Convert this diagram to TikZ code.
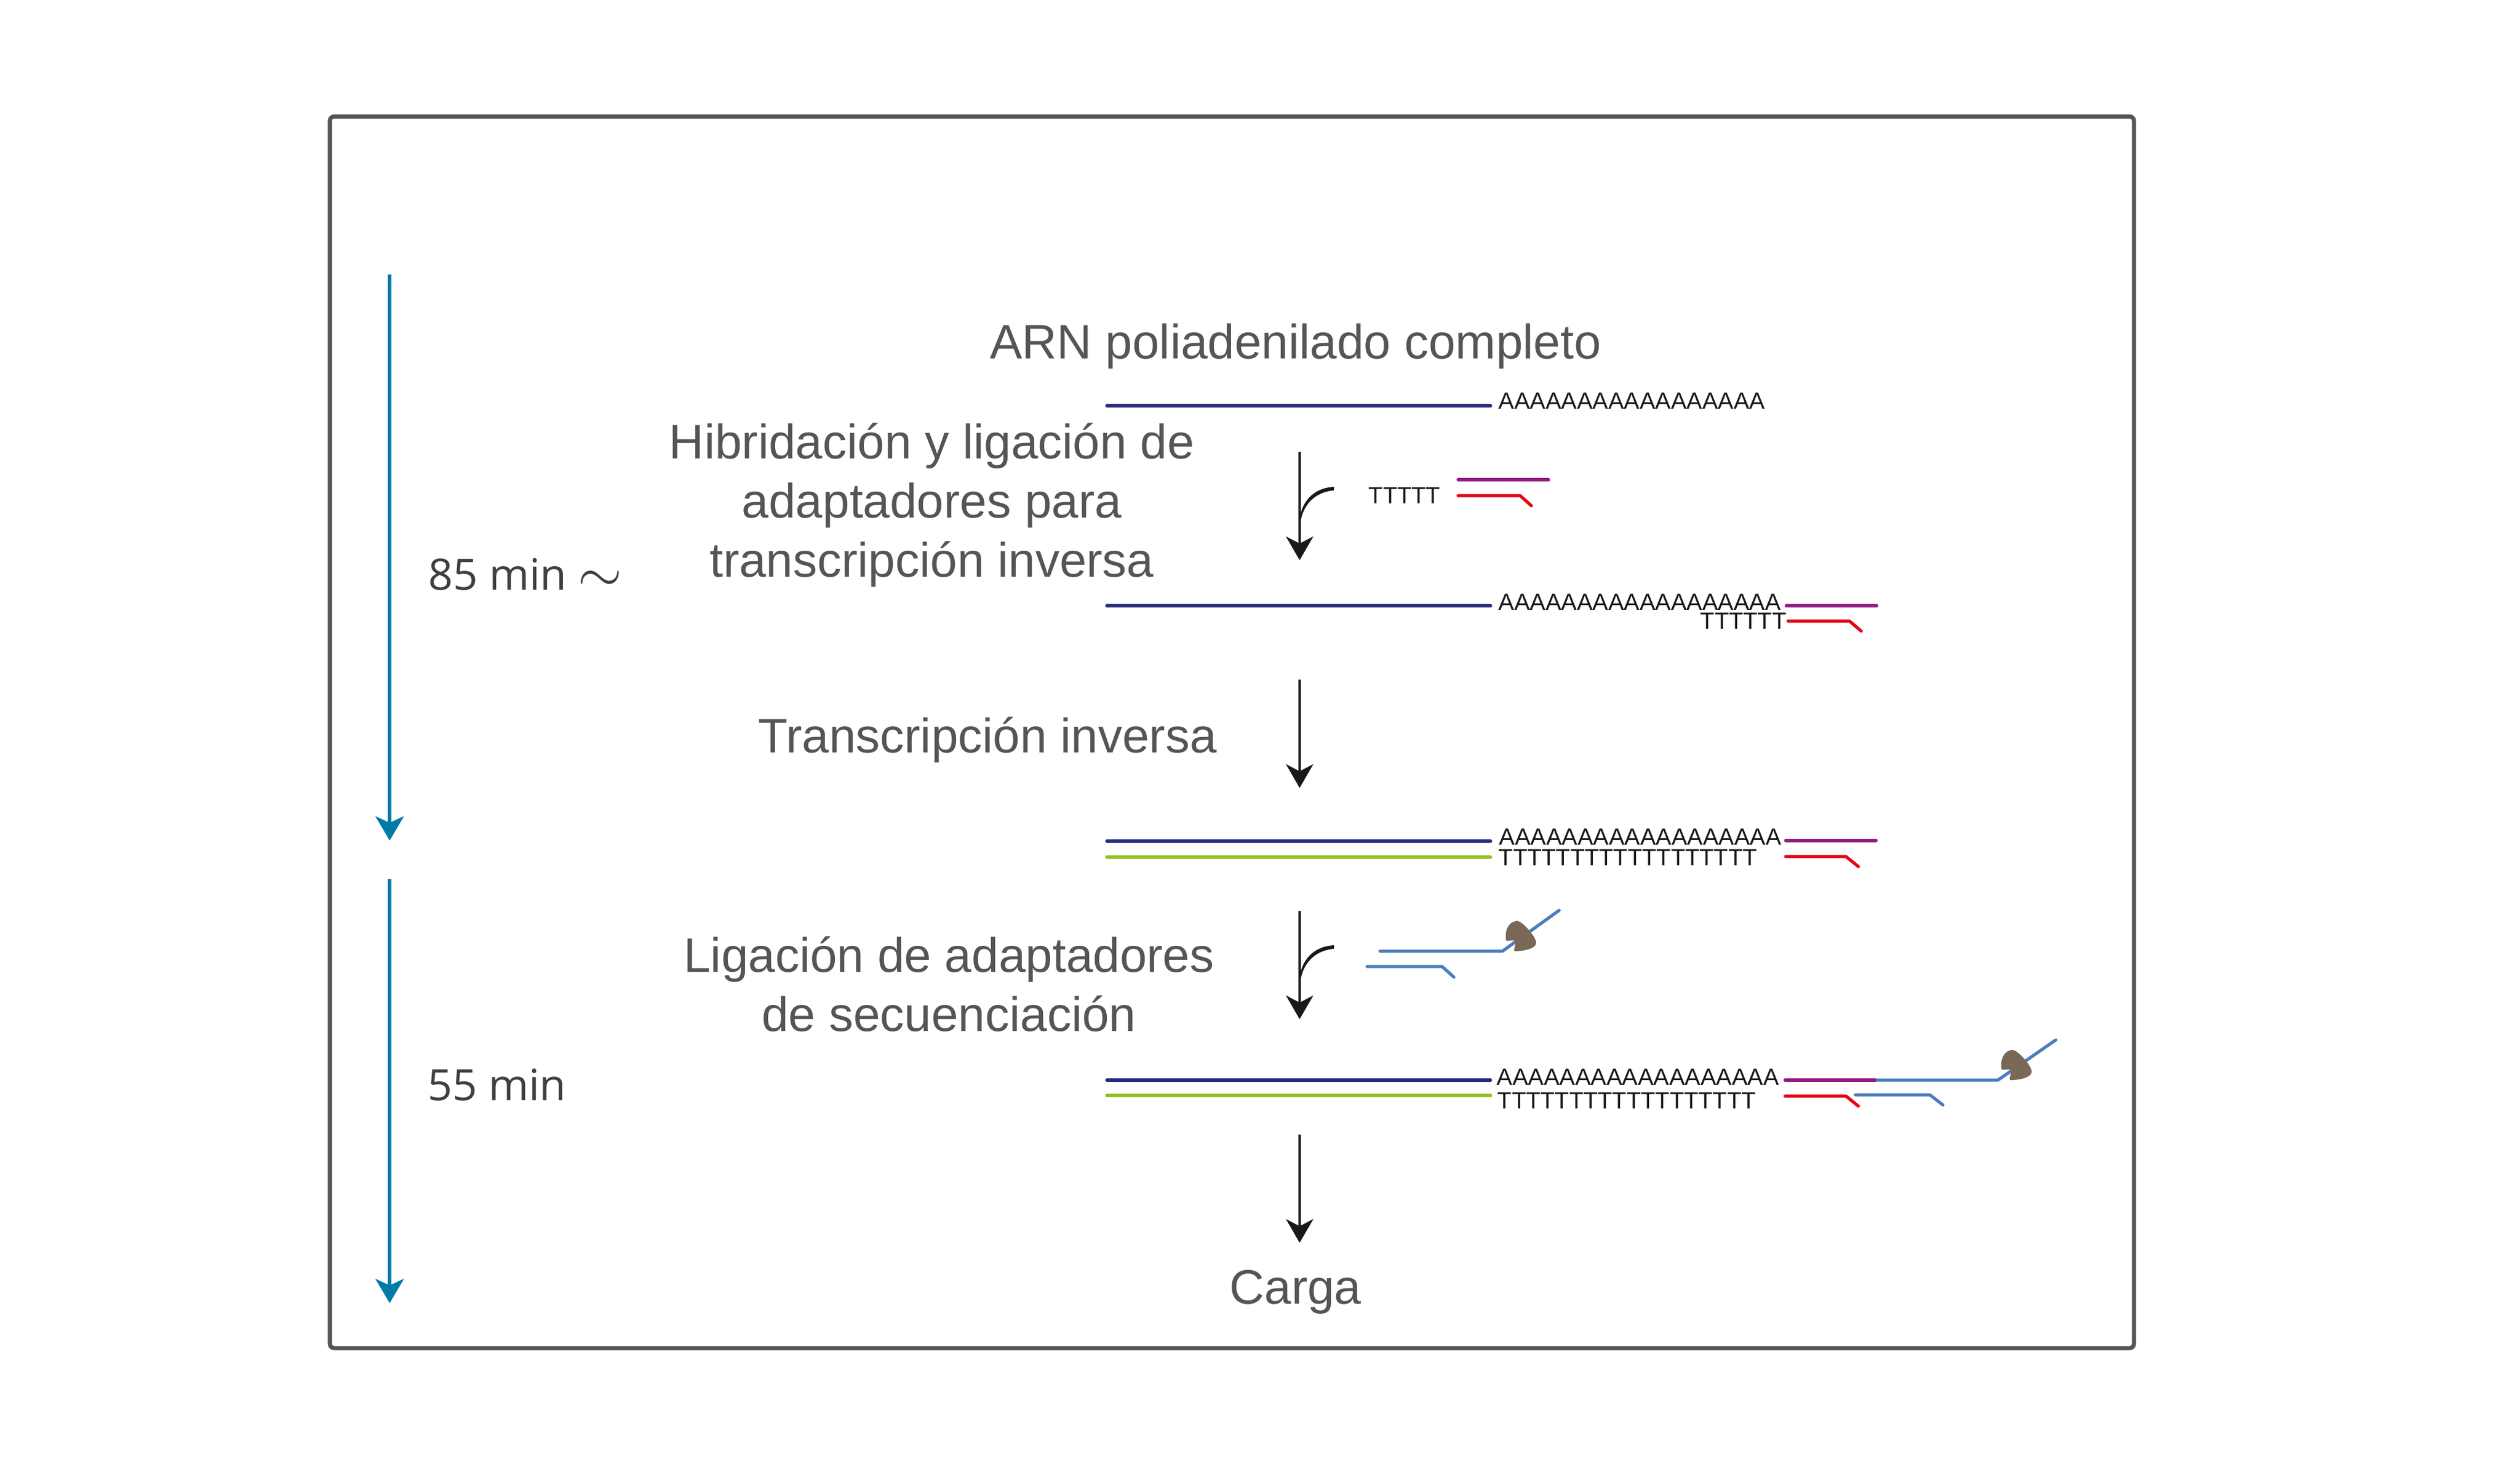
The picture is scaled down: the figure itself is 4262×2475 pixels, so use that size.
\documentclass[tikz,border=0pt]{standalone}
\usepackage{fontspec}
\setmainfont{Liberation Sans}
\newfontfamily\timefont{Open Sans}
\usetikzlibrary{arrows.meta}
\definecolor{framegray}{HTML}{555555}
\definecolor{stepgray}{HTML}{555555}
\definecolor{timegray}{HTML}{3F3F3F}
\definecolor{timeblue}{HTML}{007BA8}
\definecolor{rnablue}{HTML}{2A2A82}
\definecolor{cdnagreen}{HTML}{95C11F}
\definecolor{adaptmag}{HTML}{951B81}
\definecolor{adaptred}{HTML}{E30613}
\definecolor{seqblue}{HTML}{4A7EBB}
\definecolor{capbrown}{HTML}{7A6857}
\tikzset{
  steptext/.style={font=\fontsize{23.3}{28.4}\selectfont,text=stepgray,inner sep=0pt,align=center},
  timetext/.style={font=\timefont\fontsize{20.8}{24}\selectfont,text=timegray,inner sep=0pt,anchor=base west},
  bases/.style={font=\fontsize{11.3}{13}\selectfont,text=black!90,inner sep=0pt,anchor=base west},
  strand/.style={line width=1.5pt,line cap=round,line join=round},
  steparrow/.style={line width=1pt,color=black!90,-{Stealth[length=4mm,width=4.6mm,inset=1.2mm]}},
  timearrow/.style={line width=1.5pt,color=timeblue,-{Stealth[length=4.1mm,width=4.8mm,inset=1.1mm]}},
  addcurve/.pic={
    \fill[black!90] (58,-2) .. controls (22,0) and (1,25) .. (-1,60) -- (1,60) .. controls (5,30) and (24,7) .. (58,4) -- cycle;
  },
  capbend/.pic={
    \fill[capbrown] (6,-18) .. controls (3,-40) and (14,-51) .. (25,-51) .. controls (33,-51) and (57,-25) .. (57,-14) .. controls (57,-4) and (35,0) .. (21,0) .. controls (18,0) and (22,-10) .. (23,-17) .. controls (18,-20) and (9,-16) .. (6,-18) -- cycle;
  }
}
\begin{document}
\begin{tikzpicture}[x=0.01cm,y=-0.01cm]
\useasboundingbox (0,0) rectangle (4262,2475);
\draw[line width=2pt,color=framegray,rounded corners=2pt] (558,197) rectangle (3609,2279);

% time axis
\coordinate (t1a) at (659,464);
\coordinate (t1b) at (659,1421);
\coordinate (t2a) at (659,1486);
\coordinate (t2b) at (659,2203);
\draw[timearrow] (t1a) -- (t1b);
\draw[timearrow] (t2a) -- (t2b);
\node[timetext] (time85) at (724,997) {85 min \raisebox{-1pt}{\scalebox{1.32}{$\sim$}}};
\node[timetext] (time55) at (723,1860) {55 min};

% steps
\node[steptext] (full) at (2191,585) {ARN poliadenilado completo};
\node[steptext] (hyb) at (1576,854) {Hibridación y ligación de\\adaptadores para\\transcripción inversa};
\node[steptext] (rt) at (1670,1251) {Transcripción inversa};
\node[steptext] (lig) at (1605,1664) {Ligación de adaptadores\\de secuenciación};
\node[steptext] (load) at (2191,2184) {Carga};

% arrows
\coordinate (a1a) at (2198,764);
\coordinate (a1b) at (2198,947);
\coordinate (a2a) at (2198,1149);
\coordinate (a2b) at (2198,1332);
\coordinate (a3a) at (2198,1540);
\coordinate (a3b) at (2198,1723);
\coordinate (a4a) at (2198,1918);
\coordinate (a4b) at (2198,2101);
\draw[steparrow] (a1a) -- (a1b);
\draw[steparrow] (a2a) -- (a2b);
\draw[steparrow] (a3a) -- (a3b);
\draw[steparrow] (a4a) -- (a4b);
\pic at (2198,825) {addcurve};
\pic at (2198,1600) {addcurve};

% full RNA
\draw[strand,rnablue] (1872,686) -- (2521,686);
\node[bases] (polyA1) at (2534,691) {AAAAAAAAAAAAAAAAA};

% RT adapters
\node[bases] (polyT1) at (2314,851) {TTTTT};
\draw[strand,adaptmag] (2466,811) -- (2619,811);
\draw[strand,adaptred] (2466,838) -- (2571,838) -- (2590,855);

% adapters ligated
\draw[strand,rnablue] (1872,1024) -- (2521,1024);
\node[bases] (polyA2) at (2534,1031) {AAAAAAAAAAAAAAAAAA};
\node[bases] (polyT2) at (2875,1063) {TTTTTT};
\draw[strand,adaptmag] (3021,1024) -- (3174,1024);
\draw[strand,adaptred] (3024,1050) -- (3128,1050) -- (3148,1067);

% after RT
\draw[strand,rnablue] (1872,1422) -- (2521,1422);
\draw[strand,cdnagreen] (1872,1449) -- (2521,1449);
\node[bases] (polyA3) at (2535,1428) {AAAAAAAAAAAAAAAAAA};
\node[bases] (polyT3) at (2534,1463) {TTTTTTTTTTTTTTTTTT};
\draw[strand,adaptmag] (3020,1421) -- (3173,1421);
\draw[strand,adaptred] (3020,1448) -- (3122,1448) -- (3143,1465);

% sequencing adapters
\draw[strand,seqblue] (2334,1608) -- (2541,1608) -- (2637,1539);
\pic at (2541,1608) {capbend};
\draw[strand,seqblue] (2312,1634) -- (2439,1634) -- (2459,1652);

% final product
\draw[strand,rnablue] (1872,1826) -- (2521,1826);
\draw[strand,cdnagreen] (1872,1852) -- (2521,1852);
\node[bases] (polyA4) at (2531,1834) {AAAAAAAAAAAAAAAAAA};
\node[bases] (polyT4) at (2532,1874) {TTTTTTTTTTTTTTTTTT};
\draw[strand,seqblue] (3171,1826) -- (3379,1826) -- (3477,1758);
\draw[strand,adaptmag] (3019,1826) -- (3171,1826);
\pic at (3379,1826) {capbend};
\draw[strand,adaptred] (3019,1853) -- (3122,1853) -- (3143,1870);
\draw[strand,seqblue] (3138,1851) -- (3264,1851) -- (3286,1868);
\end{tikzpicture}
\end{document}
